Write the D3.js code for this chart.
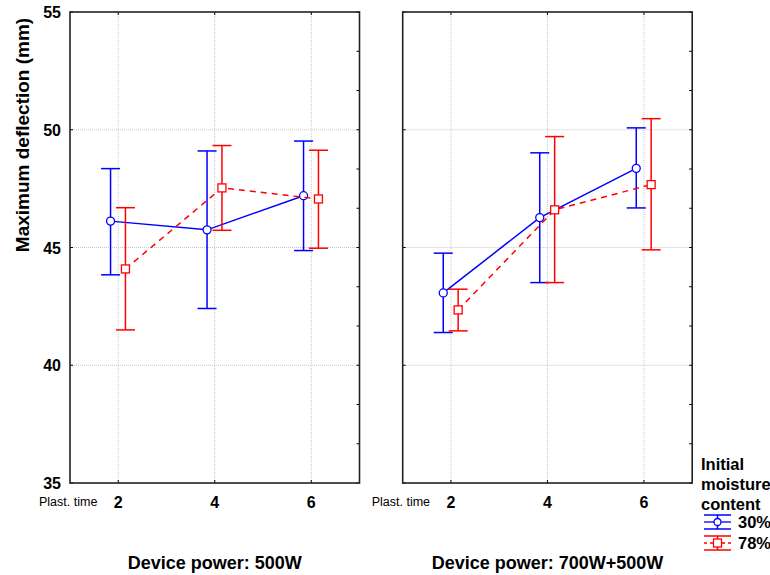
<!DOCTYPE html>
<html>
<head>
<meta charset="utf-8">
<script src="https://cdn.jsdelivr.net/npm/d3@7"></script>
<style>
  body { margin: 0; background: #fff; }
  text { font-family: "Liberation Sans", Arial, sans-serif; }
</style>
</head>
<body>
<div id="chart"></div>
<script>
//------------------------------------------------------------------------ Data
var plastTimes = [2, 4, 6];
var panelTitles = ["Device power: 500W", "Device power: 700W+500W"];
var seriesNames = ["30%", "78%"];

// means and confidence limits, one array per panel
var mean30 = [[46.12, 45.75, 47.20], [43.07, 46.27, 48.36]];
var low30  = [[43.84, 42.41, 44.87], [41.39, 43.51, 46.68]];
var high30 = [[48.35, 49.10, 49.52], [44.76, 49.02, 50.08]];

var mean78 = [[44.09, 47.53, 47.06], [42.35, 46.60, 47.67]];
var low78  = [[41.50, 45.73, 44.97], [41.46, 43.51, 44.90]];
var high78 = [[46.69, 49.33, 49.13], [43.23, 49.71, 50.47]];

var yTicks = [35, 40, 45, 50, 55];

//------------------------------------------------------------------------ Layout
var W = 770, H = 575;
var panelLeft = [70, 402.7], panelWidth = 289.5;
var plotTop = 12, plotBottom = 483;
var colBlue = "#0000ff", colRed = "#ff0000";

var svg = d3.select("#chart").append("svg")
  .attr("width", W).attr("height", H);

var y = d3.scaleLinear().domain([35, 55]).range([plotBottom, plotTop]);

function drawPanel(p) {
  var x = d3.scaleLinear().domain([1, 7]).range([panelLeft[p], panelLeft[p] + panelWidth]);
  var g = svg.append("g");

  // grid
  g.selectAll(".gx").data(plastTimes).enter().append("line")
    .attr("x1", d => x(d)).attr("x2", d => x(d))
    .attr("y1", plotTop).attr("y2", plotBottom)
    .attr("stroke", "#c8c8c8").attr("stroke-dasharray", "1,1");
  g.selectAll(".gy").data(yTicks.slice(1, -1)).enter().append("line")
    .attr("x1", x.range()[0]).attr("x2", x.range()[1])
    .attr("y1", d => y(d)).attr("y2", d => y(d))
    .attr("stroke", "#c8c8c8").attr("stroke-dasharray", "1,1");

  // inward ticks: minor on the right, major on the left
  var minor = d3.range(35, 55.01, 5 / 3);
  g.selectAll(".tr").data(minor).enter().append("line")
    .attr("x1", x.range()[1] - 3).attr("x2", x.range()[1])
    .attr("y1", d => y(d)).attr("y2", d => y(d))
    .attr("stroke", "#000");
  g.selectAll(".tl").data(yTicks).enter().append("line")
    .attr("x1", x.range()[0]).attr("x2", x.range()[0] + 3)
    .attr("y1", d => y(d)).attr("y2", d => y(d))
    .attr("stroke", "#000");
  g.selectAll(".tt").data(plastTimes).enter().append("line")
    .attr("x1", d => x(d)).attr("x2", d => x(d))
    .attr("y1", plotTop).attr("y2", plotTop + 3)
    .attr("stroke", "#000");
  g.selectAll(".tb").data(plastTimes).enter().append("line")
    .attr("x1", d => x(d)).attr("x2", d => x(d))
    .attr("y1", plotBottom - 3).attr("y2", plotBottom)
    .attr("stroke", "#000");

  // frame
  g.append("rect")
    .attr("x", x.range()[0]).attr("y", plotTop)
    .attr("width", panelWidth).attr("height", plotBottom - plotTop)
    .attr("fill", "none").attr("stroke", "#222").attr("stroke-width", 1.6);

  // x tick labels
  g.selectAll(".xl").data(plastTimes).enter().append("text")
    .attr("x", d => x(d)).attr("y", 508)
    .attr("text-anchor", "middle")
    .attr("font-size", "16px").attr("font-weight", "bold")
    .text(d => d);
  g.append("text")
    .attr("x", x.range()[0] - 31).attr("y", 506)
    .attr("font-size", "12.5px")
    .text("Plast. time");

  // panel title
  g.append("text")
    .attr("x", x(4)).attr("y", 569)
    .attr("text-anchor", "middle")
    .attr("font-size", "18px").attr("font-weight", "bold")
    .text(panelTitles[p]);

  var series = [
    {mean: mean30[p], low: low30[p], high: high30[p], col: colBlue, off: -7.7, dash: null, shape: "circle"},
    {mean: mean78[p], low: low78[p], high: high78[p], col: colRed, off: 7.2, dash: "6,5", shape: "square"}
  ];

  series.forEach(function(s) {
    var pts = plastTimes.map((t, i) => ({x: x(t) + s.off, m: s.mean[i], lo: s.low[i], hi: s.high[i]}));

    // connecting line
    g.append("path").datum(pts)
      .attr("d", d3.line().x(d => d.x).y(d => y(d.m)))
      .attr("fill", "none").attr("stroke", s.col).attr("stroke-width", 1.5)
      .attr("stroke-dasharray", s.dash);

    // error bars
    var eb = g.selectAll(null).data(pts).enter().append("g");
    eb.append("line")
      .attr("x1", d => d.x).attr("x2", d => d.x)
      .attr("y1", d => y(d.lo)).attr("y2", d => y(d.hi))
      .attr("stroke", s.col).attr("stroke-width", 1.5);
    eb.append("line")
      .attr("x1", d => d.x - 9.5).attr("x2", d => d.x + 9.5)
      .attr("y1", d => y(d.lo)).attr("y2", d => y(d.lo))
      .attr("stroke", s.col).attr("stroke-width", 1.5);
    eb.append("line")
      .attr("x1", d => d.x - 9.5).attr("x2", d => d.x + 9.5)
      .attr("y1", d => y(d.hi)).attr("y2", d => y(d.hi))
      .attr("stroke", s.col).attr("stroke-width", 1.5);

    // markers
    if (s.shape === "circle") {
      eb.append("circle")
        .attr("cx", d => d.x).attr("cy", d => y(d.m)).attr("r", 4)
        .attr("fill", "#fff").attr("stroke", s.col).attr("stroke-width", 1.3);
    } else {
      eb.append("rect")
        .attr("x", d => d.x - 4).attr("y", d => y(d.m) - 4)
        .attr("width", 8).attr("height", 8)
        .attr("fill", "#fff").attr("stroke", s.col).attr("stroke-width", 1.3);
    }
  });
}

drawPanel(0);
drawPanel(1);

// y axis labels (left panel only)
svg.selectAll(".yl").data(yTicks).enter().append("text")
  .attr("x", 61).attr("y", d => y(d) + 6)
  .attr("text-anchor", "end")
  .attr("font-size", "16px").attr("font-weight", "bold")
  .text(d => d);

svg.append("text")
  .attr("transform", "translate(29,135) rotate(-90)")
  .attr("text-anchor", "middle")
  .attr("font-size", "19px").attr("font-weight", "bold")
  .text("Maximum deflection (mm)");

//------------------------------------------------------------------------ Legend
var legTitle = ["Initial", "moisture", "content"];
svg.selectAll(".lt").data(legTitle).enter().append("text")
  .attr("x", 701).attr("y", (d, i) => 470 + i * 20)
  .attr("font-size", "16.5px").attr("font-weight", "bold")
  .text(d => d);

var legItems = [
  {name: seriesNames[0], col: colBlue, dash: null, shape: "circle", cy: 522},
  {name: seriesNames[1], col: colRed, dash: "3,3", shape: "square", cy: 543}
];
legItems.forEach(function(l) {
  var g = svg.append("g");
  var x0 = 704, x1 = 731, xc = 717.5;
  g.append("line").attr("x1", x0).attr("x2", x1).attr("y1", l.cy - 7).attr("y2", l.cy - 7)
    .attr("stroke", l.col).attr("stroke-width", 1.5);
  g.append("line").attr("x1", x0).attr("x2", x1).attr("y1", l.cy + 7).attr("y2", l.cy + 7)
    .attr("stroke", l.col).attr("stroke-width", 1.5);
  g.append("line").attr("x1", xc).attr("x2", xc).attr("y1", l.cy - 7).attr("y2", l.cy + 7)
    .attr("stroke", l.col).attr("stroke-width", 1.5);
  g.append("line").attr("x1", x0).attr("x2", x1).attr("y1", l.cy).attr("y2", l.cy)
    .attr("stroke", l.col).attr("stroke-width", 1.3).attr("stroke-dasharray", l.dash);
  if (l.shape === "circle") {
    g.append("circle").attr("cx", xc).attr("cy", l.cy).attr("r", 3.5)
      .attr("fill", "#fff").attr("stroke", l.col).attr("stroke-width", 1.3);
  } else {
    g.append("rect").attr("x", xc - 4).attr("y", l.cy - 4).attr("width", 8).attr("height", 8)
      .attr("fill", "#fff").attr("stroke", l.col).attr("stroke-width", 1.3);
  }
  g.append("text").attr("x", 738).attr("y", l.cy + 6)
    .attr("font-size", "16.5px").attr("font-weight", "bold")
    .text(l.name);
});
</script>
</body>
</html>
